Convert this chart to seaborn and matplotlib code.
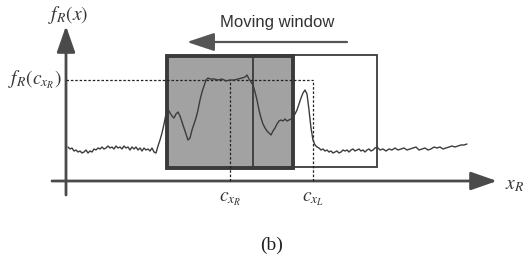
import numpy as np
import matplotlib
matplotlib.use('Agg')
import matplotlib.pyplot as plt
import seaborn as sns
from matplotlib.patches import Rectangle

# Signal f_R(x): position along the x_R axis and height above it
signal_pos = [2, 4, 6, 8, 10, 12, 14, 16, 18, 20, 22, 24, 26, 28, 30, 32, 34, 36, 38, 40,
              42, 44, 46, 48, 50, 52, 54, 56, 58, 60, 62, 64, 66, 68, 70, 72, 74, 76, 78, 80,
              82, 84, 86, 88, 90, 92, 94, 96, 98, 100, 102, 104, 106, 108, 110, 112, 114, 116, 118, 120,
              122, 124, 126, 128, 130, 132, 134, 136, 138, 140, 142, 144, 148, 152, 156, 160, 164, 168, 172, 176,
              179, 181, 183, 185, 187, 189, 191, 193, 195, 197, 199, 201, 203, 205, 207, 209, 211, 213, 215, 217,
              219, 221, 223, 225, 227, 229, 231, 233, 235, 237, 239, 241, 243, 245, 247, 249, 251, 253, 255, 257,
              259, 261, 263, 265, 267, 269, 271, 273, 275, 277, 279, 281, 283, 285, 287, 289, 291, 293, 295, 297,
              299, 301, 303, 305, 307, 309, 311, 314, 317, 320, 323, 326, 329, 332, 335, 338, 341, 344, 347, 350,
              353, 356, 359, 362, 365, 368, 371, 374, 377, 380, 383, 386, 389, 392, 395, 398, 401]
signal_val = [34, 32, 33, 30, 31, 29, 30, 28, 29, 31, 28, 30, 29, 32, 31, 33, 32, 34, 32, 33,
              35, 33, 34, 32, 35, 33, 34, 32, 35, 33, 34, 31, 34, 32, 34, 31, 33, 30, 33, 31,
              32, 30, 33, 29, 28, 35, 41, 48, 57, 67, 72, 68, 65, 63, 67, 69, 65, 59, 53, 47,
              41, 43, 51, 57, 63, 71, 81, 89, 95, 101, 103, 102, 102, 101, 102, 100, 101, 101, 102, 103,
              104, 106, 102, 99, 96, 89, 81, 71, 63, 57, 53, 50, 48, 46, 50, 53, 57, 60, 61, 60,
              62, 60, 61, 62, 64, 67, 71, 77, 83, 88, 91, 87, 71, 53, 41, 36, 34, 33, 31, 32,
              30, 31, 29, 30, 28, 29, 30, 28, 29, 31, 30, 31, 29, 31, 32, 30, 31, 32, 30, 31,
              29, 31, 32, 30, 31, 33, 34, 31, 32, 30, 32, 31, 33, 31, 32, 33, 31, 32, 33, 34,
              31, 32, 33, 31, 32, 34, 33, 34, 32, 33, 34, 35, 34, 35, 36, 36, 37]

# Diagram marks
c_xR = 164
c_xL = 247
f_peak = 101
gray_window = (101, 227)
white_window = (187, 311)
window_height = (13, 125)
move_arrow = (281, 121, 139)

sns.set_theme(style='white')
plt.rcParams['mathtext.fontset'] = 'stix'

fig = plt.figure(figsize=(5.27, 2.63), dpi=100)
ax = fig.add_axes([0, 0, 1, 1])
ax.set_xlim(-66, 461)
ax.set_ylim(-82, 181)
ax.axis('off')

dark = '#3c3c3c'

# Axes arrows
ax.annotate('', xy=(0, 155), xytext=(0, -14),
            arrowprops=dict(arrowstyle='-|>,head_length=1.0,head_width=0.35', mutation_scale=16,
                            lw=2, color='#4a4a4a', shrinkA=0, shrinkB=0))
ax.annotate('', xy=(431, 0), xytext=(-14, 0),
            arrowprops=dict(arrowstyle='-|>,head_length=1.0,head_width=0.35', mutation_scale=16,
                            lw=2, color='#4a4a4a', shrinkA=0, shrinkB=0))

# Windows
ax.add_patch(Rectangle((gray_window[0], window_height[0]), gray_window[1] - gray_window[0],
                       window_height[1] - window_height[0], facecolor='#a2a2a2',
                       edgecolor='#3a3a3a', lw=2.8, zorder=2))
ax.add_patch(Rectangle((white_window[0], window_height[0] + 1), white_window[1] - white_window[0],
                       window_height[1] - window_height[0], facecolor='none',
                       edgecolor='#3a3a3a', lw=1.3, zorder=3))

# Dashed guides
ax.plot([0, c_xL], [f_peak, f_peak], ls=(0, (2, 1.5)), color='#222', lw=0.9, zorder=4)
ax.plot([c_xR, c_xR], [0, f_peak], ls=(0, (2, 1.5)), color='#222', lw=0.9, zorder=4)
ax.plot([c_xL, c_xL], [0, f_peak], ls=(0, (2, 1.5)), color='#222', lw=0.9, zorder=4)

# Signal
sns.lineplot(x=signal_pos, y=signal_val, color=dark, lw=1.0, ax=ax, zorder=5, sort=False)

# Moving window arrow
ax.annotate('', xy=(move_arrow[1], move_arrow[2]), xytext=(move_arrow[0], move_arrow[2]),
            arrowprops=dict(arrowstyle='-|>,head_length=1.2,head_width=0.4', mutation_scale=14,
                            lw=1.6, color='#555', shrinkA=0, shrinkB=0))
ax.text(211, 159, 'Moving window', ha='center', va='center', fontsize=12,
        family='Liberation Sans', color='#333')

# Labels
ax.text(2, 166, r'$f_R(x)$', ha='center', va='center', fontsize=14, color='#333')
ax.text(-4, 101, r'$f_R(c_{x_R})$', ha='right', va='center', fontsize=14, color='#333')
ax.text(439, -3, r'$x_R$', ha='left', va='center', fontsize=14, color='#333')
ax.text(c_xR, -18, r'$c_{x_R}$', ha='center', va='center', fontsize=14, color='#333')
ax.text(c_xL, -17, r'$c_{x_L}$', ha='center', va='center', fontsize=14, color='#333')
ax.text(206, -64, '(b)', ha='center', va='center', fontsize=14, family='Liberation Serif', color='#222')

fig.savefig('out.png', dpi=100)
